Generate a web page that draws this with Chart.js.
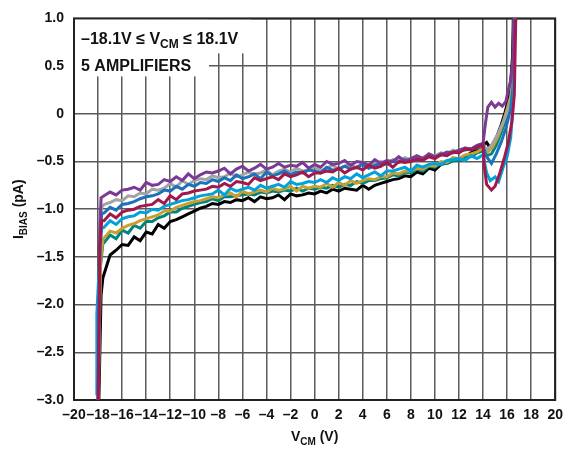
<!DOCTYPE html>
<html>
<head>
<meta charset="utf-8">
<script src="https://cdn.jsdelivr.net/npm/chart.js@4/dist/chart.umd.min.js"></script>
<style>
  html, body { margin: 0; padding: 0; background: #fff; }
  #wrap { width: 570px; height: 456px; }
</style>
</head>
<body>
<div id="wrap"><canvas id="chart" width="570" height="456"></canvas></div>
<script>
// common-mode voltage grid (V) for the main part of each trace
const vcm = [-17.5,-17,-16.5,-16,-15.5,-15,-14.5,-14,-13.5,-13,-12.5,-12,-11.5,-11,-10.5,-10,
  -9.5,-9,-8.5,-8,-7.5,-7,-6.5,-6,-5.5,-5,-4.5,-4,-3.5,-3,-2.5,-2,-1.5,-1,-0.5,0,
  0.5,1,1.5,2,2.5,3,3.5,4,4.5,5,5.5,6,6.5,7,7.5,8,8.5,9,9.5,10,10.5,11,11.5,12,12.5,13,13.5,14];

// bias current (pA), one array per trace
const purpleY = [-0.86,-0.82,-0.85,-0.80,-0.79,-0.77,-0.80,-0.72,-0.75,-0.74,-0.69,-0.71,-0.66,-0.70,-0.63,-0.68,
  -0.64,-0.61,-0.62,-0.60,-0.57,-0.63,-0.58,-0.55,-0.60,-0.57,-0.53,-0.58,-0.56,-0.52,-0.56,-0.54,-0.55,-0.51,-0.57,-0.53,
  -0.56,-0.50,-0.53,-0.52,-0.49,-0.54,-0.50,-0.51,-0.54,-0.48,-0.52,-0.49,-0.50,-0.45,-0.50,-0.47,-0.44,-0.47,-0.42,-0.45,
  -0.43,-0.40,-0.41,-0.38,-0.36,-0.37,-0.33,-0.31];
const grayY = [-0.95,-0.93,-0.90,-0.91,-0.86,-0.87,-0.83,-0.84,-0.79,-0.80,-0.78,-0.73,-0.77,-0.70,-0.74,-0.70,
  -0.68,-0.69,-0.65,-0.67,-0.66,-0.62,-0.66,-0.64,-0.61,-0.63,-0.62,-0.59,-0.64,-0.60,-0.58,-0.61,-0.57,-0.60,-0.59,-0.55,
  -0.60,-0.57,-0.54,-0.58,-0.55,-0.53,-0.57,-0.51,-0.54,-0.53,-0.50,-0.52,-0.48,-0.49,-0.46,-0.48,-0.45,-0.46,-0.43,-0.44,
  -0.41,-0.42,-0.38,-0.40,-0.36,-0.37,-0.34,-0.31];
const blueY = [-1.04,-0.98,-1.01,-0.95,-0.94,-0.92,-0.89,-0.87,-0.86,-0.84,-0.80,-0.81,-0.76,-0.79,-0.74,-0.76,
  -0.72,-0.73,-0.69,-0.71,-0.67,-0.70,-0.64,-0.68,-0.66,-0.63,-0.68,-0.61,-0.65,-0.63,-0.60,-0.64,-0.61,-0.62,-0.59,-0.60,
  -0.62,-0.56,-0.59,-0.58,-0.55,-0.58,-0.56,-0.53,-0.57,-0.54,-0.52,-0.53,-0.50,-0.51,-0.48,-0.50,-0.46,-0.48,-0.44,-0.46,
  -0.42,-0.43,-0.40,-0.39,-0.38,-0.37,-0.36,-0.34];
const crimsonY = [-1.12,-1.05,-1.09,-1.03,-1.01,-1.00,-0.97,-0.96,-0.95,-0.90,-0.94,-0.86,-0.90,-0.84,-0.83,-0.81,
  -0.80,-0.79,-0.76,-0.77,-0.73,-0.76,-0.71,-0.72,-0.74,-0.67,-0.70,-0.68,-0.66,-0.69,-0.63,-0.66,-0.64,-0.61,-0.66,-0.62,
  -0.62,-0.60,-0.61,-0.57,-0.62,-0.58,-0.56,-0.59,-0.54,-0.57,-0.55,-0.51,-0.56,-0.50,-0.51,-0.50,-0.48,-0.49,-0.45,-0.47,
  -0.43,-0.44,-0.40,-0.41,-0.37,-0.38,-0.35,-0.32];
const lightBlueY = [-1.19,-1.12,-1.16,-1.10,-1.08,-1.07,-1.03,-1.04,-1.00,-1.01,-0.97,-0.95,-0.93,-0.91,-0.90,-0.88,
  -0.86,-0.85,-0.84,-0.80,-0.85,-0.78,-0.81,-0.79,-0.77,-0.80,-0.75,-0.78,-0.76,-0.74,-0.77,-0.71,-0.74,-0.73,-0.71,-0.72,
  -0.69,-0.72,-0.67,-0.70,-0.66,-0.68,-0.63,-0.67,-0.64,-0.61,-0.65,-0.60,-0.60,-0.58,-0.56,-0.60,-0.54,-0.56,-0.53,-0.52,
  -0.53,-0.49,-0.48,-0.47,-0.49,-0.44,-0.47,-0.43];
const goldY = [-1.30,-1.23,-1.25,-1.20,-1.17,-1.15,-1.12,-1.10,-1.08,-1.06,-1.02,-1.02,-0.98,-0.96,-0.94,-0.92,
  -0.91,-0.89,-0.87,-0.88,-0.85,-0.83,-0.87,-0.81,-0.84,-0.82,-0.80,-0.82,-0.78,-0.80,-0.79,-0.76,-0.81,-0.76,-0.78,-0.76,
  -0.77,-0.73,-0.77,-0.72,-0.75,-0.70,-0.73,-0.70,-0.68,-0.69,-0.66,-0.66,-0.62,-0.63,-0.60,-0.60,-0.57,-0.58,-0.54,-0.55,
  -0.50,-0.51,-0.46,-0.47,-0.43,-0.42,-0.40,-0.36];
const tealY = [-1.35,-1.27,-1.31,-1.22,-1.25,-1.17,-1.20,-1.13,-1.13,-1.09,-1.07,-1.03,-1.03,-0.99,-0.97,-0.95,
  -0.93,-0.92,-0.89,-0.91,-0.87,-0.87,-0.86,-0.85,-0.84,-0.85,-0.82,-0.83,-0.81,-0.82,-0.80,-0.81,-0.78,-0.81,-0.78,-0.79,
  -0.77,-0.78,-0.75,-0.77,-0.74,-0.75,-0.71,-0.73,-0.70,-0.70,-0.68,-0.67,-0.64,-0.65,-0.61,-0.62,-0.58,-0.60,-0.55,-0.56,
  -0.52,-0.52,-0.49,-0.49,-0.45,-0.45,-0.41,-0.39];
const blackY = [-1.68,-1.48,-1.43,-1.37,-1.38,-1.29,-1.33,-1.24,-1.26,-1.16,-1.20,-1.13,-1.11,-1.08,-1.05,-1.02,
  -0.99,-0.97,-0.94,-0.95,-0.92,-0.93,-0.90,-0.91,-0.88,-0.92,-0.87,-0.89,-0.88,-0.85,-0.90,-0.84,-0.86,-0.85,-0.83,-0.84,
  -0.81,-0.83,-0.79,-0.81,-0.78,-0.79,-0.80,-0.75,-0.79,-0.75,-0.73,-0.71,-0.69,-0.68,-0.65,-0.66,-0.61,-0.63,-0.57,-0.59,
  -0.53,-0.52,-0.49,-0.47,-0.45,-0.41,-0.38,-0.33];

// steep start near the negative rail, [V, pA]
const purpleHead = [[-18.0,-3.1],[-17.85,-1.2],[-17.75,-0.88]];
const grayHead = [[-18.0,-3.1],[-17.85,-1.3],[-17.7,-0.98]];
const blueHead = [[-18.0,-3.1],[-17.85,-1.35],[-17.7,-1.05]];
const crimsonHead = [[-18.0,-3.1],[-17.85,-1.4],[-17.7,-1.12]];
const lightBlueHead = [[-18.1,-2.95],[-18.1,-2.1],[-17.85,-1.45],[-17.7,-1.2]];
const goldHead = [[-18.0,-3.1],[-17.8,-1.55],[-17.6,-1.32]];
const tealHead = [[-18.0,-3.1],[-17.8,-1.6],[-17.6,-1.36]];
const blackHead = [[-17.95,-3.1],[-17.75,-1.9],[-17.6,-1.72]];

// behaviour near the positive rail, [V, pA]
const purpleTail = [[14.2,-0.1],[14.4,0.07],[14.7,0.12],[15.0,0.07],[15.3,0.11],[15.6,0.08],[15.9,0.13],[16.1,0.25],[16.3,0.35],[16.5,0.6],[16.6,1.2]];
const grayTail = [[14.3,-0.38],[14.7,-0.33],[15.2,-0.22],[15.7,-0.08],[16.1,0.05],[16.4,0.2],[16.6,0.6],[16.7,1.2]];
const blueTail = [[14.3,-0.45],[14.7,-0.52],[15.1,-0.42],[15.5,-0.30],[15.9,-0.15],[16.3,0.05],[16.5,0.3],[16.65,1.2]];
const crimsonTail = [[14.1,-0.55],[14.3,-0.74],[14.7,-0.80],[15.0,-0.76],[15.4,-0.62],[15.8,-0.45],[16.1,-0.30],[16.4,-0.08],[16.6,0.2],[16.75,1.2]];
const lightBlueTail = [[14.3,-0.62],[14.6,-0.70],[15.0,-0.66],[15.3,-0.71],[15.7,-0.55],[16.0,-0.45],[16.3,-0.25],[16.5,0.1],[16.65,1.2]];
const goldTail = [[14.4,-0.40],[14.8,-0.35],[15.2,-0.25],[15.6,-0.12],[16.0,0.05],[16.3,0.18],[16.5,0.4],[16.65,1.2]];
const tealTail = [[14.3,-0.44],[14.7,-0.42],[15.1,-0.33],[15.5,-0.2],[15.9,-0.06],[16.2,0.05],[16.45,0.3],[16.6,1.2]];
const blackTail = [[14.3,-0.30],[14.6,-0.36],[14.9,-0.30],[15.2,-0.22],[15.5,-0.12],[15.8,0.0],[16.1,0.15],[16.3,0.33],[16.45,0.6],[16.55,1.2]];

const xTicks = [-20,-18,-16,-14,-12,-10,-8,-6,-4,-2,0,2,4,6,8,10,12,14,16,18,20];
const yTicks = [-3,-2.5,-2,-1.5,-1,-0.5,0,0.5,1];

function trace(head, ys, tail) {
  const pts = head.map(p => ({x: p[0], y: p[1]}));
  vcm.forEach((x, i) => pts.push({x, y: ys[i]}));
  tail.forEach(p => pts.push({x: p[0], y: p[1]}));
  return pts;
}

// first dataset is drawn on top
const traces = [
  ['#a3184a', crimsonHead, crimsonY, crimsonTail],
  ['#7b3a93', purpleHead, purpleY, purpleTail],
  ['#00a1dc', lightBlueHead, lightBlueY, lightBlueTail],
  ['#1a73ba', blueHead, blueY, blueTail],
  ['#a3a3a3', grayHead, grayY, grayTail],
  ['#c9a030', goldHead, goldY, goldTail],
  ['#00847e', tealHead, tealY, tealTail],
  ['#000000', blackHead, blackY, blackTail]
];

const dash = v => (v < 0 ? '\u2013' : '') + Math.abs(v);

function drawParts(ctx, parts, x, y) {
  let cx = x;
  parts.forEach(([txt, font, dy]) => {
    ctx.font = font;
    ctx.fillText(txt, cx, y + dy);
    cx += ctx.measureText(txt).width;
  });
}
function partsWidth(ctx, parts) {
  let w = 0;
  parts.forEach(([txt, font]) => { ctx.font = font; w += ctx.measureText(txt).width; });
  return w;
}

const F = '"Liberation Sans", Arial, sans-serif';
const big = 'bold 14px ' + F, sub = 'bold 10px ' + F, note = 'bold 16px ' + F, noteSub = 'bold 12px ' + F;

const overlay = {
  id: 'overlay',
  beforeDatasetsDraw(chart) {
    const {ctx, chartArea: a} = chart;
    ctx.save();
    // white boxes behind the notes hide the grid
    ctx.fillStyle = '#fff';
    ctx.fillRect(a.left + 1, a.top + 1, 176, 34);
    ctx.fillRect(a.left + 1, a.top + 1, 134, 57);
    ctx.strokeStyle = '#222';
    ctx.lineWidth = 2;
    ctx.strokeRect(a.left, a.top, a.right - a.left, a.bottom - a.top);
    ctx.fillStyle = '#111';
    ctx.textBaseline = 'alphabetic';
    ctx.textAlign = 'left';
    drawParts(ctx, [['\u201318.1V \u2264 V', note, 0], ['CM', noteSub, 4], [' \u2264 18.1V', note, 0]], a.left + 7, a.top + 26);
    drawParts(ctx, [['5 AMPLIFIERS', note, 0]], a.left + 7, a.top + 53);
    ctx.restore();
  },
  afterDraw(chart) {
    const {ctx, chartArea: a} = chart;
    ctx.save();
    ctx.fillStyle = '#111';
    ctx.textBaseline = 'alphabetic';
    ctx.textAlign = 'left';
    const xt = [['V', big, 0], ['CM', sub, 4], [' (V)', big, 0]];
    drawParts(ctx, xt, (a.left + a.right) / 2 - partsWidth(ctx, xt) / 2, 441);
    const yt = [['I', big, 0], ['BIAS', sub, 4], [' (pA)', big, 0]];
    ctx.translate(23, (a.top + a.bottom) / 2);
    ctx.rotate(-Math.PI / 2);
    drawParts(ctx, yt, -partsWidth(ctx, yt) / 2, 0);
    ctx.restore();
  }
};

new Chart(document.getElementById('chart'), {
  type: 'scatter',
  data: {
    datasets: traces.map(([color, head, ys, tail]) => ({
      data: trace(head, ys, tail),
      showLine: true,
      borderColor: color,
      backgroundColor: color,
      borderWidth: 3,
      pointRadius: 0,
      tension: 0,
      clip: 0
    }))
  },
  options: {
    responsive: false,
    animation: false,
    layout: { padding: { top: 15, right: 14, left: 0, bottom: 0 } },
    plugins: { legend: { display: false }, tooltip: { enabled: false } },
    scales: {
      x: {
        type: 'linear', min: -20, max: 20,
        afterBuildTicks: s => { s.ticks = xTicks.map(v => ({value: v})); },
        afterFit: s => { s.height = 56; },
        ticks: { callback: v => dash(v), autoSkip: false, maxRotation: 0, padding: 7,
          color: '#111', font: { family: F, size: 14, weight: 'bold' } },
        grid: { color: '#5a5a5a', lineWidth: 1.5, drawTicks: false },
        border: { display: false }
      },
      y: {
        type: 'linear', min: -3, max: 1,
        afterBuildTicks: s => { s.ticks = yTicks.map(v => ({value: v})); },
        afterFit: s => { s.width = 74; },
        ticks: { callback: v => v === 0 ? '0' : (v < 0 ? '\u2013' : '') + Math.abs(v).toFixed(1), padding: 10,
          color: '#111', font: { family: F, size: 14, weight: 'bold' } },
        grid: { color: '#5a5a5a', lineWidth: 1.5, drawTicks: false },
        border: { display: false }
      }
    }
  },
  plugins: [overlay]
});
</script>
</body>
</html>
